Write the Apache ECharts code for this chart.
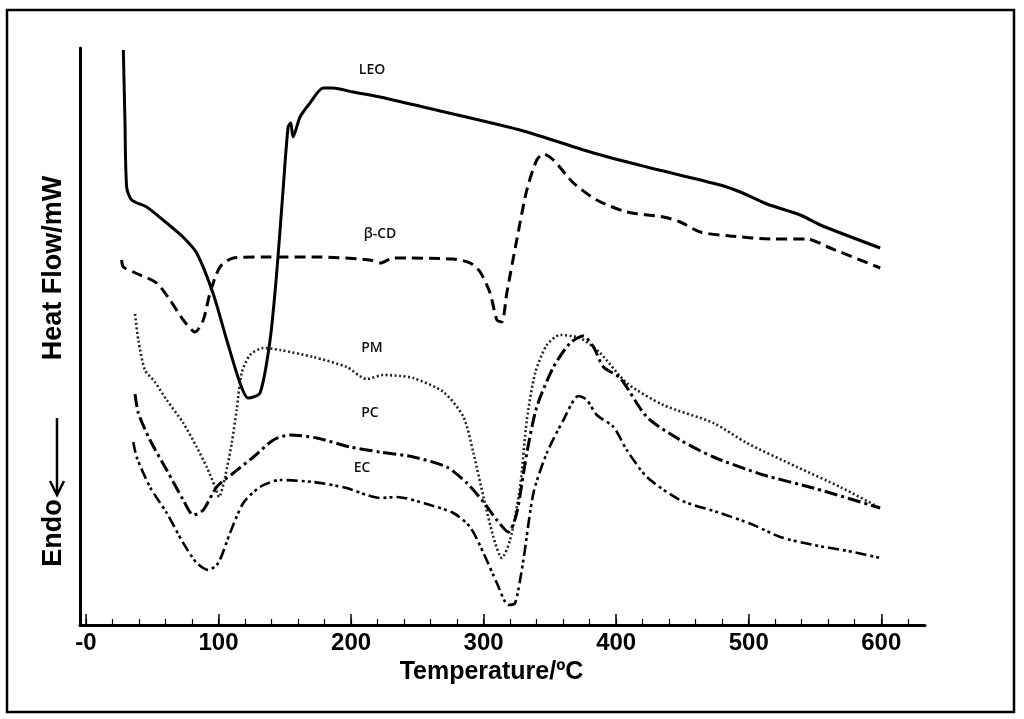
<!DOCTYPE html>
<html>
<head>
<meta charset="utf-8">
<script src="https://cdn.jsdelivr.net/npm/echarts@6/dist/echarts.min.js"></script>
<style>
html,body{margin:0;padding:0;background:#fff;}
#main{width:1024px;height:719px;}
</style>
</head>
<body>
<div id="main"></div>
<script>
// Temperature (°C) and heat flow (arbitrary units, higher = exo)
const leoT = [28.2,29.4,30.7,34.5,45.8,60.9,73.2,83.5,95.8,106.2,116.2,122.3,131.3,138.9,143.9,148.7,152.5,154.5,156.2,161.5,169,178.9,186.4,201.5,221.9,267.2,330,382.9,423.2,478.5,493.6,513.7,538.9,554,599.2];
const leoV = [575,505,438,425,418,402,388,372,332,285,242,227,232,285,352,435,498,502,488,508,522,537,537,533,528,514,494,472,458,440,433,421,410,400,377];

const bcdT = [26.9,28.2,35.7,53.3,63.4,73.4,82.3,88.5,93.6,101.1,111.2,133.8,176.6,214,221.9,231.9,277.2,289.8,297.4,304.9,310,313.7,317.5,325,332.6,340.1,345.1,352.7,367.8,385.4,408,435.7,448.3,463.4,486,518.7,543.9,561.5,599.2];
const bcdV = [365,358,353,342,325,305,293,305,332,358,367,368,368,365,362,367,366,362,353,332,305,303,332,385,435,465,471,465,442,425,413,408,403,393,389,386,386,377,357];

const pmT = [37,39.5,44.5,52,60.9,73.4,83.5,91.1,97.4,100.4,104.9,110,113.7,117.5,123.8,133.8,146.4,171.5,196.7,211.8,224.4,237,247,269.7,284.8,292.3,299.9,307.4,313.7,320,327.5,332.6,338.9,347.7,357.7,372.8,387.9,408,435.7,473.4,498.6,536.4,569,599.2];
const pmV = [311,285,255,243,225,202,178,158,138,128,148,182,215,252,270,277,275,268,258,246,250,249,247,233,208,172,128,88,67,85,138,205,252,280,290,287,272,242,220,202,182,158,138,117];

const pcT = [37,39.5,48.3,60.9,73.4,81,88.5,98.6,111.2,126.3,141.4,154,174.1,199.2,221.9,247,272.2,287.3,299.9,310,318.7,325,332.6,340.1,352.7,365.3,375.3,382.9,390.4,403,423.2,448.3,473.4,511.2,548.9,599.2];
const pcV = [231,212,185,155,125,110,115,138,152,168,185,190,187,178,173,168,158,142,123,105,93,112,172,218,258,282,289,278,258,247,208,185,168,150,137,117];

const ecT = [35.7,38.2,48.3,60.9,73.4,83.5,92.3,99.8,108.7,118.7,131.3,146.4,171.5,196.7,211.8,221.9,234.5,259.6,277.2,289.8,299.9,310,318.7,323.8,330,337.6,347.7,360.2,371.5,377.9,385.4,398,408,423.2,448.3,478.5,503.6,523.8,548.9,579.1,599.2];
const ecV = [183,168,138,112,82,62,55,62,92,122,138,145,143,137,130,127,128,120,112,98,72,42,20,22,65,132,172,205,229,225,210,198,175,148,125,112,100,88,80,73,67];

const xTickLabels = ['-0','100','200','300','400','500','600'];
const xMajorTicks = [0,100,200,300,400,500,600];
const xMinorTicks = [];
for (let t = 0; t <= 620; t += 20) xMinorTicks.push(t);

const seriesNames = ['LEO','β-CD','PM','PC','EC'];

function pairs(xs, ys){ return xs.map((x,i)=>[x, ys[i]]); }

const chart = echarts.init(document.getElementById('main'), null, {renderer:'canvas'});

const lineBase = {type:'line', showSymbol:false, symbol:'none', smooth:0.25, xAxisIndex:0, yAxisIndex:0, silent:true, animation:false};
const lblFont = '600 14px "Open Sans", sans-serif';

chart.setOption({
  animation:false,
  backgroundColor:'#fff',
  grid:{left:80, right:99, top:48, bottom:94, containLabel:false},
  xAxis:[{
    type:'value', min:-4.5, max:633,
    name:'Temperature/ºC', nameLocation:'middle', nameGap:29,
    nameTextStyle:{fontFamily:'Liberation Sans, Arial, sans-serif', fontWeight:'bold', fontSize:25, color:'#000', padding:[0,22,0,0]},
    axisLine:{show:true, onZero:false, lineStyle:{color:'#000', width:3}},
    axisTick:{show:true, inside:true, length:11, customValues:xMajorTicks, lineStyle:{color:'#000', width:1.5}},
    axisLabel:{show:true, margin:6, customValues:xMajorTicks,
      formatter:function(v){ const i = xMajorTicks.indexOf(v); return i>=0 ? xTickLabels[i] : ''; },
      fontFamily:'Liberation Sans, Arial, sans-serif', fontWeight:'bold', fontSize:24, color:'#000'},
    splitLine:{show:false}
  },{
    type:'value', min:-4.5, max:633, position:'bottom',
    axisLine:{show:false},
    axisTick:{show:true, inside:true, length:6, customValues:xMinorTicks, lineStyle:{color:'#000', width:1.2}},
    axisLabel:{show:false},
    splitLine:{show:false}
  }],
  yAxis:[{
    type:'value', min:0, max:577,
    axisLine:{show:true, onZero:false, lineStyle:{color:'#000', width:3}},
    axisTick:{show:false}, axisLabel:{show:false}, splitLine:{show:false}
  }],
  series:[
    Object.assign({}, lineBase, {name:seriesNames[0], data:pairs(leoT, leoV), lineStyle:{color:'#000', width:3, type:'solid'}}),
    Object.assign({}, lineBase, {name:seriesNames[1], data:pairs(bcdT, bcdV), lineStyle:{color:'#000', width:3, type:[11,6]}}),
    Object.assign({}, lineBase, {name:seriesNames[2], data:pairs(pmT, pmV), lineStyle:{color:'#222', width:2.6, type:[2,2.5]}}),
    Object.assign({}, lineBase, {name:seriesNames[3], data:pairs(pcT, pcV), lineStyle:{color:'#000', width:3, type:[13,4,3,4]}}),
    Object.assign({}, lineBase, {name:seriesNames[4], data:pairs(ecT, ecV), lineStyle:{color:'#000', width:2.6, type:[11,4,3,3,3,4]}})
  ],
  graphic:[
    {type:'rect', shape:{x:7, y:10, width:1007, height:702}, style:{fill:'none', stroke:'#000', lineWidth:2.5}, silent:true},
    {type:'text', x:372, y:70, style:{text:seriesNames[0], font:lblFont, fill:'#111', align:'center', verticalAlign:'middle'}},
    {type:'text', x:380, y:234, style:{text:seriesNames[1], font:lblFont, fill:'#111', align:'center', verticalAlign:'middle'}},
    {type:'text', x:372, y:348, style:{text:seriesNames[2], font:lblFont, fill:'#111', align:'center', verticalAlign:'middle'}},
    {type:'text', x:370, y:413, style:{text:seriesNames[3], font:lblFont, fill:'#111', align:'center', verticalAlign:'middle'}},
    {type:'text', x:362, y:468, style:{text:seriesNames[4], font:lblFont, fill:'#111', align:'center', verticalAlign:'middle'}},
    {type:'text', x:54, y:268, rotation:Math.PI/2, style:{text:'Heat Flow/mW', font:'bold 27px "Liberation Sans", Arial, sans-serif', fill:'#000', align:'center', verticalAlign:'middle'}},
    {type:'text', x:54, y:533, rotation:Math.PI/2, style:{text:'Endo', font:'bold 27px "Liberation Sans", Arial, sans-serif', fill:'#000', align:'center', verticalAlign:'middle'}},
    {type:'line', shape:{x1:57, y1:418, x2:57, y2:492}, style:{stroke:'#000', lineWidth:2.5}},
    {type:'polyline', shape:{points:[[50,481],[57,495],[64,481]]}, style:{stroke:'#000', lineWidth:2.5, fill:'none'}}
  ]
});
</script>
</body>
</html>
